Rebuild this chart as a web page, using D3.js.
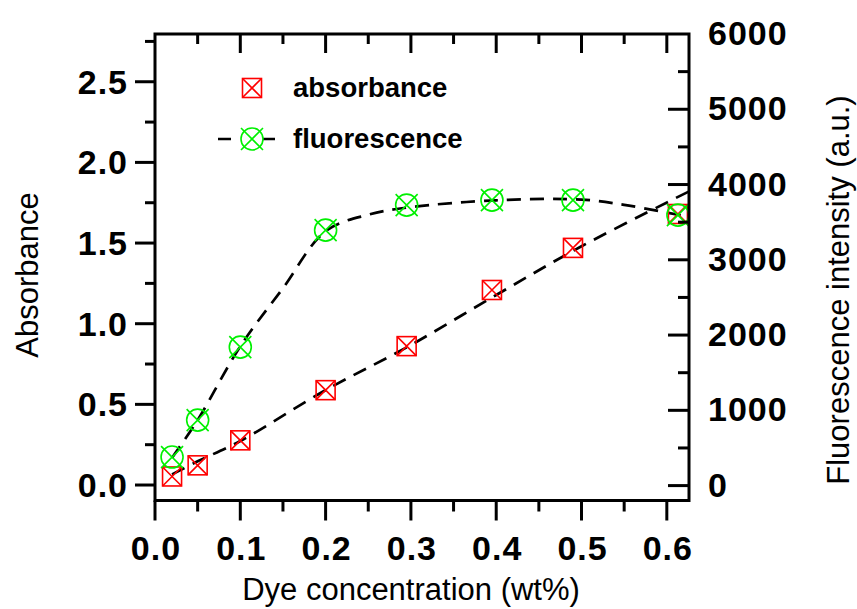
<!DOCTYPE html>
<html>
<head>
<meta charset="utf-8" />
<title>Absorbance and fluorescence vs dye concentration</title>
<script src="https://d3js.org/d3.v7.min.js"></script>
<style>
html, body { margin: 0; padding: 0; background: #fff; }
svg { display: block; }
.tick-label { font-family: "Liberation Sans", Arial, sans-serif; font-weight: bold; font-size: 34px; letter-spacing: 1px; fill: #000; }
.axis-title { font-family: "Liberation Sans", Arial, sans-serif; font-size: 31px; fill: #000; }
.legend-text { font-family: "Liberation Sans", Arial, sans-serif; font-weight: bold; font-size: 27.5px; fill: #000; }
</style>
</head>
<body>
<script>
// measured points
const conc = [0.02, 0.05, 0.1, 0.2, 0.295, 0.395, 0.49, 0.613];
const absorbance = [0.053, 0.122, 0.277, 0.588, 0.861, 1.209, 1.47, 1.68];
const fluorescence = [379, 870, 1840, 3394, 3727, 3793, 3793, 3594];

// dashed guide curves
const absFitX = [0.02, 0.05, 0.1, 0.2, 0.3, 0.4, 0.5, 0.626];
const absFitY = [0.066, 0.147, 0.273, 0.588, 0.868, 1.178, 1.48, 1.82];
const fluFitX = [0.02, 0.05, 0.1, 0.15, 0.2, 0.25, 0.3, 0.4, 0.5, 0.55, 0.626];
const fluFitY = [370, 870, 1850, 2623, 3380, 3600, 3700, 3790, 3800, 3730, 3570];

// axis ticks
const xMajor = [0, 0.1, 0.2, 0.3, 0.4, 0.5, 0.6];
const xMinor = [0.05, 0.15, 0.25, 0.35, 0.45, 0.55];
const yLMajor = [0, 0.5, 1.0, 1.5, 2.0, 2.5];
const yLMinor = [0.25, 0.75, 1.25, 1.75, 2.25, 2.75];
const yRMajor = [0, 1000, 2000, 3000, 4000, 5000, 6000];
const yRMinor = [500, 1500, 2500, 3500, 4500, 5500];

const w = 857, h = 609;
const pLeft = 155, pRight = 689, pTop = 34, pBottom = 500.5;

const svg = d3.select('body').append('svg').attr('width', w).attr('height', h);

const x = d3.scaleLinear().domain([0, 0.626]).range([pLeft, pRight]);
const yL = d3.scaleLinear().domain([-0.096, 2.796]).range([pBottom, pTop]);
const yR = d3.scaleLinear().domain([-198, 6000]).range([pBottom, pTop]);

const red = '#ff0000', green = '#00f000';

// fit lines
function dashed(xs, ys, scale) {
    const pts = xs.map((v, i) => [x(v), scale(ys[i])]);
    svg.append('path')
        .attr('d', d3.line().curve(d3.curveCatmullRom.alpha(0.5))(pts))
        .attr('fill', 'none').attr('stroke', '#000')
        .attr('stroke-width', 2.7).attr('stroke-dasharray', '14,9');
}
dashed(absFitX, absFitY, yL);
dashed(fluFitX, fluFitY, yR);

// markers
function squareX(g, cx, cy, s) {
    g.append('rect').attr('x', cx - s).attr('y', cy - s).attr('width', 2 * s).attr('height', 2 * s)
        .attr('fill', 'none').attr('stroke', red).attr('stroke-width', 1.6);
    g.append('path').attr('d', `M${cx - s},${cy - s}L${cx + s},${cy + s}M${cx + s},${cy - s}L${cx - s},${cy + s}`)
        .attr('stroke', red).attr('stroke-width', 1.6);
}
function circleX(g, cx, cy, r) {
    g.append('circle').attr('cx', cx).attr('cy', cy).attr('r', r)
        .attr('fill', 'none').attr('stroke', green).attr('stroke-width', 1.6);
    const s = r;
    g.append('path').attr('d', `M${cx - s},${cy - s}L${cx + s},${cy + s}M${cx + s},${cy - s}L${cx - s},${cy + s}`)
        .attr('stroke', green).attr('stroke-width', 1.6);
}

const marks = svg.append('g');
conc.forEach((c, i) => squareX(marks, x(c), yL(absorbance[i]), 9.5));
conc.forEach((c, i) => circleX(marks, x(c), yR(fluorescence[i]), 11));

// frame and ticks
const axes = svg.append('g').attr('stroke', '#000').attr('stroke-width', 3);
axes.append('rect').attr('x', pLeft).attr('y', pTop).attr('width', pRight - pLeft).attr('height', pBottom - pTop)
    .attr('fill', 'none');

function ticks(vals, len, pos, vertical) {
    vals.forEach(v => {
        if (vertical) {
            axes.append('line').attr('x1', x(v)).attr('x2', x(v)).attr('y1', pos).attr('y2', pos + len);
        } else {
            axes.append('line').attr('y1', v).attr('y2', v).attr('x1', pos).attr('x2', pos + len);
        }
    });
}
// bottom (outward), top (inward)
ticks(xMajor, 20, pBottom, true);
ticks(xMinor, 11, pBottom, true);
ticks(xMajor.filter(v => v > 0), 19, pTop, true);
ticks(xMinor, 10, pTop, true);
// left (outward)
ticks(yLMajor.map(yL), -20, pLeft, false);
ticks(yLMinor.map(yL), -10, pLeft, false);
// right (inward)
ticks(yRMajor.filter(v => v < 6000).map(yR), -21, pRight, false);
ticks(yRMinor.map(yR), -11, pRight, false);

// tick labels
svg.append('g').selectAll('text').data(xMajor).enter().append('text')
    .attr('class', 'tick-label').attr('x', v => x(v) + 1).attr('y', 560)
    .attr('text-anchor', 'middle').text(d3.format('.1f'));
svg.append('g').selectAll('text').data(yLMajor).enter().append('text')
    .attr('class', 'tick-label').attr('x', 128).attr('y', v => yL(v) + 12)
    .attr('text-anchor', 'end').text(d3.format('.1f'));
svg.append('g').selectAll('text').data(yRMajor).enter().append('text')
    .attr('class', 'tick-label').attr('x', 708).attr('y', v => yR(v) + 11)
    .attr('text-anchor', 'start').text(d3.format('d'));

// axis titles
svg.append('text').attr('class', 'axis-title').attr('x', 411).attr('y', 600)
    .attr('text-anchor', 'middle').text('Dye concentration (wt%)');
svg.append('text').attr('class', 'axis-title').attr('transform', 'translate(38,275) rotate(-90)')
    .attr('text-anchor', 'middle').text('Absorbance');
svg.append('text').attr('class', 'axis-title').attr('transform', 'translate(849,290) rotate(-90)')
    .attr('text-anchor', 'middle').text('Fluorescence intensity (a.u.)');

// legend
const legend = svg.append('g');
squareX(legend, 252, 88, 9.5);
legend.append('text').attr('class', 'legend-text').attr('x', 293).attr('y', 97).text('absorbance');
legend.append('path').attr('d', 'M218,139L231,139M263,139L275,139')
    .attr('stroke', '#000').attr('stroke-width', 2.7);
circleX(legend, 252, 139, 11);
legend.append('text').attr('class', 'legend-text').attr('x', 293).attr('y', 148).text('fluorescence');
</script>
</body>
</html>
